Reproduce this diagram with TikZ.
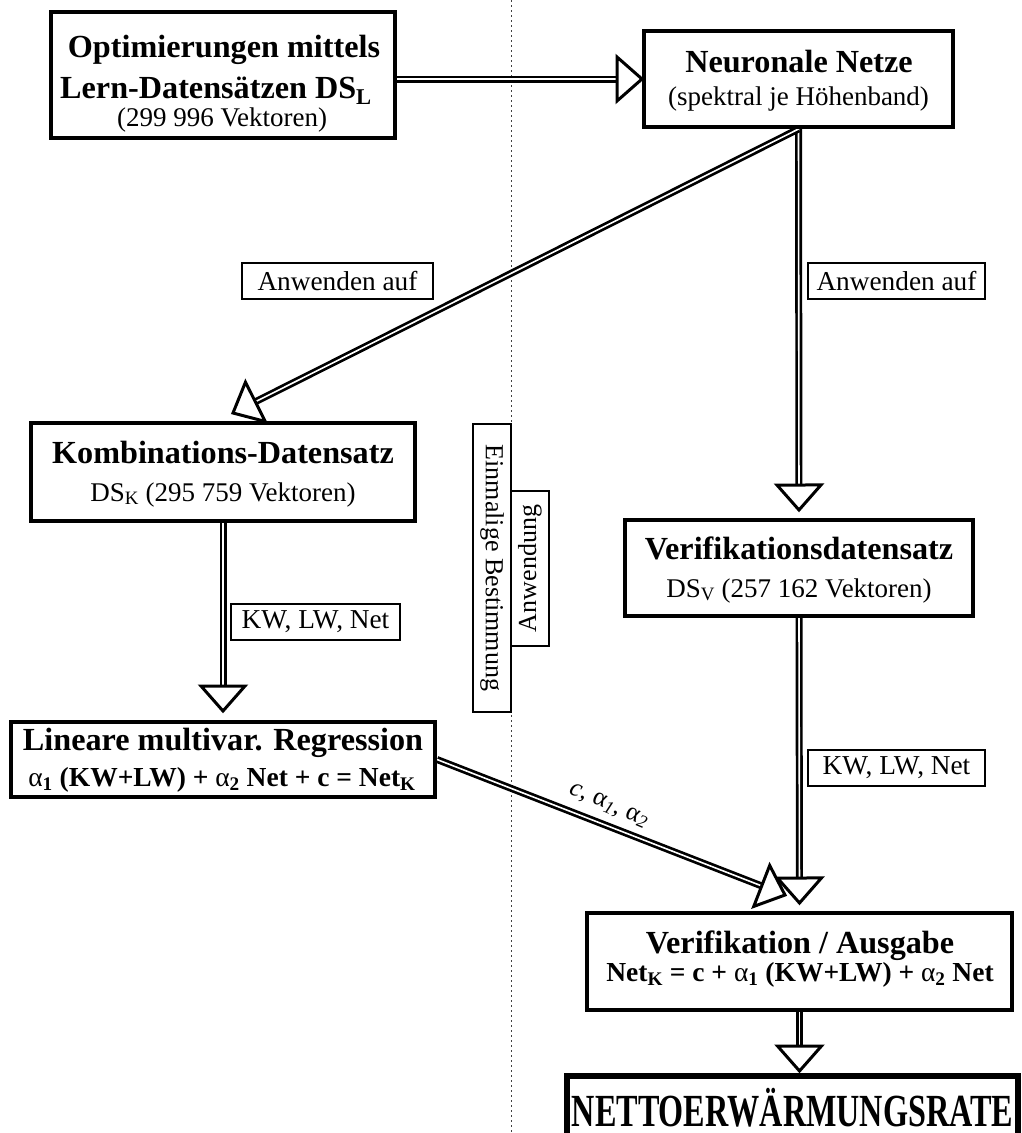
\documentclass[tikz,border=0pt]{standalone}
\usepackage{fontspec}
\setmainfont{Liberation Serif}
\usepackage{graphicx}
\usetikzlibrary{calc,backgrounds}
\tikzset{
  box/.style={draw, line width=4pt, fill=white, inner sep=0pt},
  lbl/.style={draw, line width=1.8pt, fill=white, inner sep=0pt, font=\fontsize{27.3}{31}\selectfont},
  shaft/.style={draw, double=white, line width=2.7pt, double distance=1.6pt},
  ahead/.style={draw, fill=white, line width=3pt, line join=miter},
  ttl/.style={anchor=base, font=\fontsize{32.2}{36}\selectfont\bfseries, inner sep=0pt},
  subt/.style={anchor=base, font=\fontsize{27}{31}\selectfont, inner sep=0pt},
  frm/.style={anchor=base, font=\fontsize{27.5}{31}\selectfont\bfseries, inner sep=0pt},
  divider/.style={line width=1pt, dash pattern=on 2pt off 3pt, black!75},
}
\newcommand{\flowarrow}[2]{%
  \coordinate (hb) at ($(#2)!25pt!(#1)$);
  \draw[shaft] (#1) -- (hb);
  \filldraw[ahead] (#2) -- ($(hb)!22pt!90:(#2)$) -- ($(hb)!22pt!-90:(#2)$) -- cycle;
}
\begin{document}
\begin{tikzpicture}[x=1pt,y=-1pt]
\useasboundingbox (0,0) rectangle (1021,1133);
\clip (0,0) rectangle (1021,1133);

% boxes
\node[box, minimum width=344pt, minimum height=126pt] (b1) at (223,75) {};
\node[box, minimum width=309pt, minimum height=96pt] (b2) at (798.5,79) {};
\node[box, minimum width=384pt, minimum height=98pt] (kd) at (223,472) {};
\node[box, minimum width=348pt, minimum height=96pt] (vd) at (799,568) {};
\node[box, minimum width=424pt, minimum height=75pt] (rg) at (223,759.5) {};
\node[box, minimum width=425pt, minimum height=97pt] (vf) at (799.5,961.5) {};
\node[box, line width=6pt, minimum width=451pt, minimum height=84pt] (nr) at (792.5,1118) {};

% texts
\node[ttl] (t1a) at (224,57) {Optimierungen mittels};
\node[ttl] (t1b) at (216,98) {Lern-Datensätzen DS\textsubscript{L}};
\node[subt] (t1c) at (222,126) {(299 996 Vektoren)};
\node[ttl] (t2a) at (799,72) {Neuronale Netze};
\node[subt] (t2b) at (798.5,105) {(spektral je Höhenband)};
\node[ttl] (t3a) at (223,463) {Kombinations-Datensatz};
\node[subt] (t3b) at (223,501) {DS\textsubscript{K} (295 759 Vektoren)};
\node[ttl] (t4a) at (799,559) {Verifikationsdatensatz};
\node[subt] (t4b) at (799,597) {DS\textsubscript{V} (257 162 Vektoren)};
\node[ttl] (t5a) at (223,750) {Lineare multivar. Regression};
\node[frm] (t5b) at (222,786) {{\mdseries α}\textsubscript{1} (KW+LW) + {\mdseries α}\textsubscript{2} Net + c = Net\textsubscript{K}};
\node[ttl] (t6a) at (800,953) {Verifikation / Ausgabe};
\node[frm] (t6b) at (800,981) {Net\textsubscript{K} = c + {\mdseries α}\textsubscript{1} (KW+LW) + {\mdseries α}\textsubscript{2} Net};
\node[anchor=base, inner sep=0pt, font=\fontsize{46}{50}\selectfont\bfseries] (t7) at (792.5,1126) {\scalebox{0.70}[1]{NETTOERWÄRMUNGSRATE}};

% label boxes
\node[lbl, minimum width=191pt, minimum height=36pt] (aw1) at (337.5,281) {Anwenden auf};
\node[lbl, minimum width=177pt, minimum height=36pt] (aw2) at (896.5,281) {Anwenden auf};
\node[lbl, minimum width=169pt, minimum height=36pt] (kl1) at (315.5,622) {KW, LW, Net};
\node[lbl, minimum width=177pt, minimum height=36pt] (kl2) at (896.5,768) {KW, LW, Net};
\node[lbl, font=\fontsize{26}{30}\selectfont, rotate=-90, minimum width=288pt, minimum height=38pt] (eb) at (492,568) {Einmalige Bestimmung};
\node[lbl, font=\fontsize{26}{30}\selectfont, rotate=90, minimum width=155pt, minimum height=38pt] (an) at (530,568.5) {Anwendung};
\node[rotate=-23, inner sep=0pt, font=\fontsize{26}{30}\selectfont] (cal) at (609,806) {{\itshape c}, α\textsubscript{\itshape 1}, α\textsubscript{\itshape 2}};

% connectors
\coordinate (kdtip) at (233,413);
\coordinate (vftip2) at (785,895);
\begin{scope}[on background layer]
\draw[divider] (511,0) -- (511,1133);
\flowarrow{b1.east |- b2.west}{b2.west}
\flowarrow{b2.south}{$(vd.north)+(0,-8)$}
\flowarrow{b2.south}{kdtip}
\flowarrow{kd.south}{$(rg.north)+(0,-9)$}
\flowarrow{vd.south}{$(vf.north)+(0,-8)$}
\flowarrow{rg.east}{vftip2}
\flowarrow{vf.south}{$(vf.south |- nr.north)+(0,-2)$}
\end{scope}
\end{tikzpicture}
\end{document}
